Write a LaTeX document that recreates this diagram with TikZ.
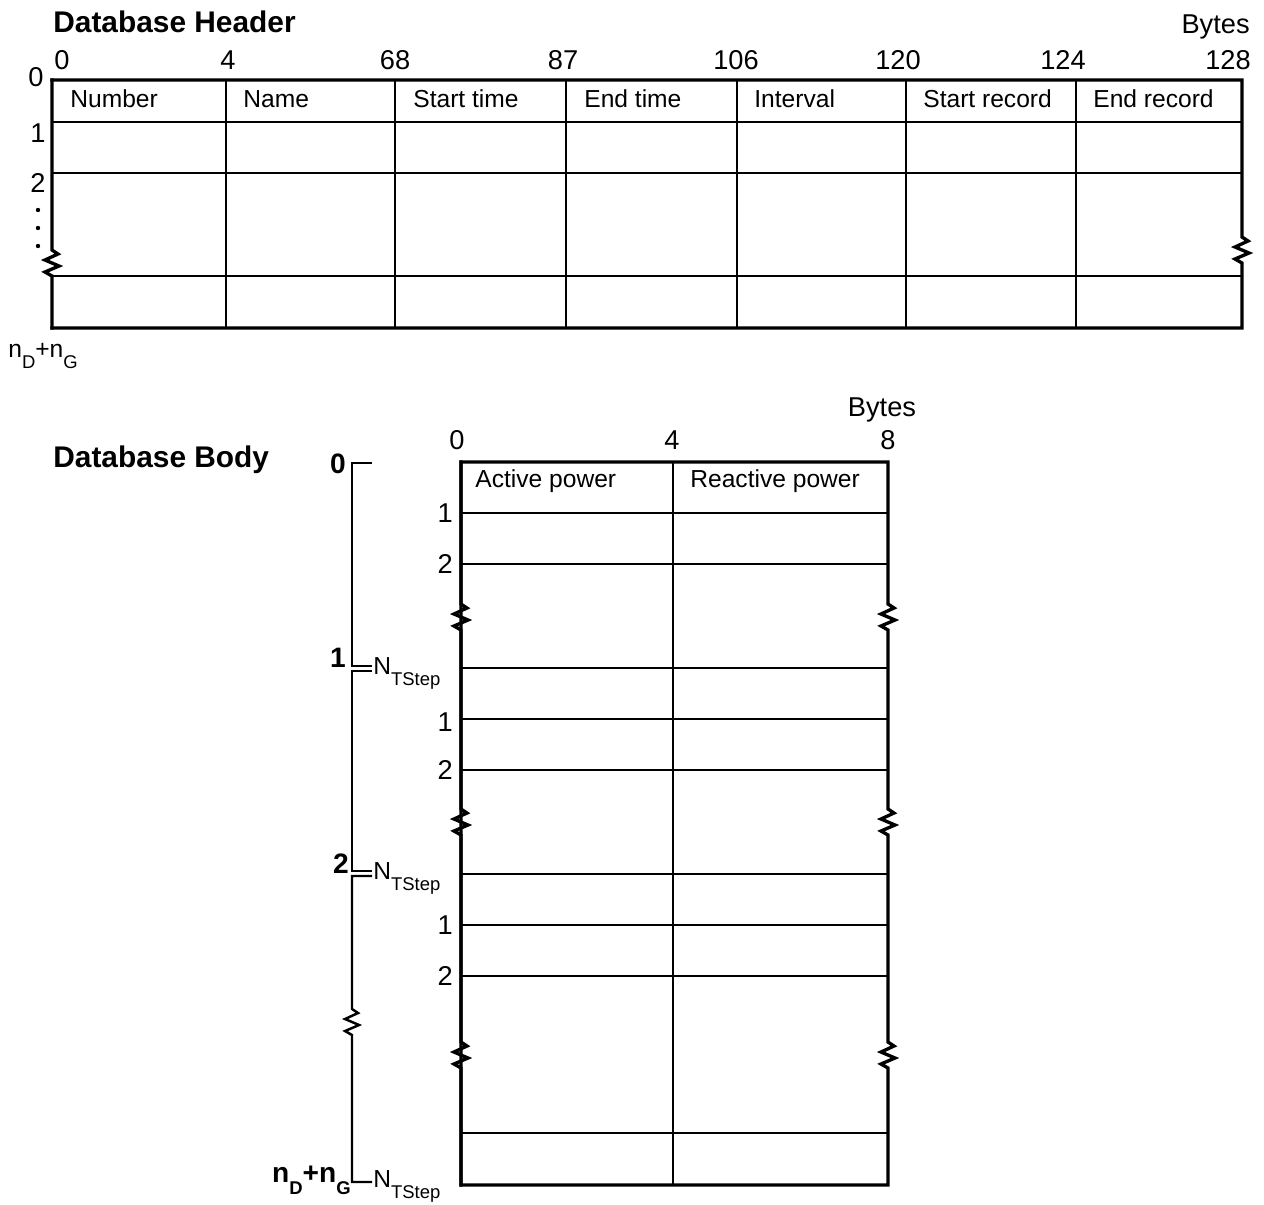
\documentclass[tikz,border=0pt]{standalone}
\usepackage{fontspec}
\setmainfont{Liberation Sans}

% break mark inside a vertical line (26 units long)
\newcommand{\zig}{-- ++(6,4) -- ++(-13,6) -- ++(14,6) -- ++(-14,6) -- ++(7,4)}
% lowered subscript
\newcommand{\low}[1]{\raisebox{-0.45em}{\fontsize{10.5}{12}\selectfont #1}}

\begin{document}
\begin{tikzpicture}[
    x=0.02cm, y=-0.02cm,
    title/.style={font=\bfseries\fontsize{17}{20}\selectfont, inner sep=0pt},
    cell/.style={font=\fontsize{14}{16}\selectfont, inner sep=0pt, anchor=west},
    num/.style={font=\fontsize{15.5}{18}\selectfont, inner sep=0pt},
    bnum/.style={font=\bfseries\fontsize{16}{19}\selectfont, inner sep=0pt},
    tblframe/.style={line width=1.9pt, line cap=rect, line join=miter},
    tblrule/.style={line width=1.3pt},
    bracketline/.style={line width=1.4pt, line join=miter}
]
    \useasboundingbox (0,0) rectangle (1264,1204);

    % Header table
    \node[title, anchor=west] (htitle) at (53,22) {Database Header};
    \node[num, anchor=east] (hbytes) at (1250,27) {Bytes};
    \node[num] (hb0) at (62,60) {0};
    \node[num] (hb4) at (228,60) {4};
    \node[num] (hb68) at (395,60) {68};
    \node[num] (hb87) at (563,60) {87};
    \node[num] (hb106) at (736,60) {106};
    \node[num] (hb120) at (898,60) {120};
    \node[num] (hb124) at (1063,60) {124};
    \node[num] (hb128) at (1228,60) {128};

    \draw[tblframe] (52,80) -- (1242,80) -- (1242,237) \zig -- (1242,328) -- (52,328);
    \draw[tblframe] (52,80) -- (52,250) \zig -- (52,328);
    \draw[tblrule] (226,80) -- (226,328);
    \draw[tblrule] (395,80) -- (395,328);
    \draw[tblrule] (566,80) -- (566,328);
    \draw[tblrule] (737,80) -- (737,328);
    \draw[tblrule] (906,80) -- (906,328);
    \draw[tblrule] (1076,80) -- (1076,328);
    \draw[tblrule] (52,122) -- (1242,122);
    \draw[tblrule] (52,173) -- (1242,173);
    \draw[tblrule] (52,276) -- (1242,276);

    \node[cell] (hnumber) at (70,99) {Number};
    \node[cell] (hname) at (243,99) {Name};
    \node[cell] (hstart) at (413,99) {Start time};
    \node[cell] (hend) at (584,99) {End time};
    \node[cell] (hinterval) at (754,99) {Interval};
    \node[cell] (hstartrec) at (923,99) {Start record};
    \node[cell] (hendrec) at (1093,99) {End record};

    \node[num] (hr0) at (36,77) {0};
    \node[num] (hr1) at (38,133) {1};
    \node[num] (hr2) at (38,183) {2};
    \fill (38,210) circle (2.2) (38,228) circle (2.2) (38,246) circle (2.2);
    \node[cell] (hrlast) at (8,356) {n\low{D}+n\low{G}};

    % Body table
    \node[title, anchor=west] (btitle) at (53,460) {Database Body};
    \node[num] (bbytes) at (882,410) {Bytes};
    \node[num] (bb0) at (457,440) {0};
    \node[num] (bb4) at (672,440) {4};
    \node[num] (bb8) at (888,440) {8};

    \draw[tblframe] (461,1185) -- (461,462) -- (888,462) -- (888,604) \zig -- (888,809) \zig -- (888,1042) \zig -- (888,1185) -- cycle;
    \draw[tblframe] (461,462) -- (461,604) \zig -- (461,809) \zig -- (461,1042) \zig -- (461,1185);
    \draw[tblrule] (673,462) -- (673,1185);
    \draw[tblrule] (461,513) -- (888,513);
    \draw[tblrule] (461,564) -- (888,564);
    \draw[tblrule] (461,668) -- (888,668);
    \draw[tblrule] (461,719) -- (888,719);
    \draw[tblrule] (461,770) -- (888,770);
    \draw[tblrule] (461,874) -- (888,874);
    \draw[tblrule] (461,925) -- (888,925);
    \draw[tblrule] (461,976) -- (888,976);
    \draw[tblrule] (461,1133) -- (888,1133);

    \node[cell] (bactive) at (475,481) {Active power};
    \node[cell] (breactive) at (690,481) {Reactive power};

    \node[num, anchor=east] (br1a) at (453,513) {1};
    \node[num, anchor=east] (br2a) at (453,564) {2};
    \node[num, anchor=east] (br1b) at (453,722) {1};
    \node[num, anchor=east] (br2b) at (453,770) {2};
    \node[num, anchor=east] (br1c) at (453,925) {1};
    \node[num, anchor=east] (br2c) at (453,976) {2};

    % Time step brackets
    \draw[bracketline] (372,463) -- (352,463) -- (352,666) -- (372,666);
    \draw[bracketline] (372,671) -- (352,671) -- (352,871) -- (372,871);
    \draw[bracketline] (372,876) -- (352,876) -- (352,1009) \zig -- (352,1182) -- (372,1182);

    \node[bnum, anchor=base east] (bs0) at (346,473) {0};
    \node[bnum, anchor=base east] (bs1) at (346,667) {1};
    \node[bnum, anchor=base east] (bs2) at (349,873) {2};
    \node[bnum, anchor=base east] (bslast) at (351,1182) {n\low{D}+n\low{G}};
    \node[cell, anchor=base west] (bn1) at (373,674) {N\low{TStep}};
    \node[cell, anchor=base west] (bn2) at (373,879) {N\low{TStep}};
    \node[cell, anchor=base west] (bnlast) at (373,1187) {N\low{TStep}};
\end{tikzpicture}
\end{document}
